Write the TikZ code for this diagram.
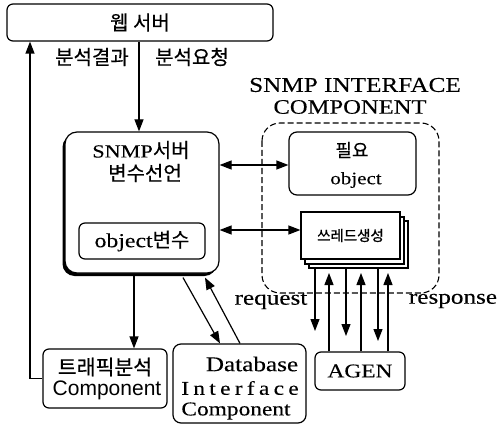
\documentclass[tikz,border=0pt]{standalone}
\usepackage{fontspec}
\setmainfont[FakeStretch=1.2,FakeBold=0.2]{Liberation Serif}
\newfontfamily\kr[FakeBold=0.4]{Noto Sans CJK KR}
\newfontfamily\krbold[FakeBold=1.2]{Noto Sans CJK KR}
\newfontfamily\sanslat{Liberation Sans}
\newfontfamily\spacedser[FakeStretch=1.2,FakeBold=0.2,LetterSpace=22]{Liberation Serif}
\newcommand\fsz[1]{\fontsize{#1}{#1}\selectfont}
\usetikzlibrary{arrows.meta,shadows}

\begin{document}
\begin{tikzpicture}[x=1pt,y=-1pt,line width=1.2pt,
  box/.style={draw,rounded corners=6pt,fill=white,inner sep=0pt},
  txt/.style={inner sep=0pt,anchor=center},
  arr/.style={-{Triangle[length=12pt,width=9pt]}},
  darr/.style={{Triangle[length=12pt,width=9pt]}-{Triangle[length=12pt,width=9pt]}},
  dashbox/.style={draw,dash pattern=on 6pt off 3pt,rounded corners=18pt,line width=1.1pt},
]
\useasboundingbox (0,0) rectangle (498,425);

% web server
\node[box,minimum width=266pt,minimum height=37pt] (web) at (140,22.5) {\kr\fsz{20}웹 서버};
\node[txt] (lres) at (92,57) {\kr\fsz{20}분석결과};
\node[txt] (lreq) at (192,57) {\kr\fsz{20}분석요청};

% SNMP interface component (dashed group)
\node[txt] (ititle1) at (355,85) {\fsz{21}SNMP INTERFACE};
\node[txt] (ititle2) at (350,107) {\fsz{20.5}COMPONENT};
\draw[dashbox] (262,123) rectangle (439,293);

% SNMP server box
\node[box,rounded corners=12pt,minimum width=154pt,minimum height=141pt,
      general shadow={fill=black,shadow xshift=-2.5pt,shadow yshift=-3pt}] (snmp) at (142,202.5) {};
\node[txt] (snmpt1) at (141,150) {\fsz{18.5}SNMP{\kr\fsz{20}서버}};
\node[txt] (snmpt2) at (145,173) {\kr\fsz{20}변수선언};
\node[box,minimum width=126pt,minimum height=36pt] (objv) at (142,241) {\fsz{19.8}object{\kr\fsz{20}변수}};

% needed object box
\node[box,rounded corners=8pt,minimum width=127pt,minimum height=63pt] (need) at (352.5,163.5) {};
\node[txt] (needt1) at (352,150) {\kr\fsz{18}필요};
\node[txt] (needt2) at (356,180) {\fsz{17.5}object};

% thread creation stack
\node[box,rounded corners=0pt,minimum width=99pt,minimum height=47pt] (stackc) at (358.5,244.5) {};
\node[box,rounded corners=0pt,minimum width=99pt,minimum height=47pt] (stackb) at (354.5,240.5) {};
\node[box,rounded corners=0pt,minimum width=99pt,minimum height=47pt] (stack) at (350.5,235.5) {\krbold\fsz{14.5}쓰레드생성};

% lower components
\node[box,minimum width=124pt,minimum height=59pt] (traffic) at (105,378.5) {};
\node[txt] (traffict1) at (105,367) {\kr\fsz{20.5}트래픽분석};
\node[txt] (traffict2) at (107,390) {\sanslat\fsz{21}Component};

\node[box,rounded corners=8pt,minimum width=133pt,minimum height=79pt] (db) at (239.5,383.5) {};
\node[txt] (dbt1) at (252,364) {\fsz{21}Database};
\node[txt] (dbt2) at (240,388) {\spacedser\fsz{19.5}Interface};
\node[txt] (dbt3) at (236,411) {\fsz{19.5}Component};

\node[box,minimum width=90pt,minimum height=38pt] (agen) at (360,371) {\fsz{19.5}AGEN};

\node[txt] (lrq) at (271,301) {\fsz{21}request};
\node[txt] (lrp) at (453,301) {\fsz{21}response};

% x positions of the vertical connectors
\coordinate (xup) at (30,0);
\coordinate (xdn) at (139,0);
\coordinate (xtr) at (134,0);
\coordinate (xd1) at (183,0);
\coordinate (xd2) at (220,0);
\coordinate (xu1) at (240,0);
\coordinate (xu2) at (205,0);
\coordinate (yh1) at (0,165);
\coordinate (yh2) at (0,230);

% web server <-> SNMP server
\draw[arr] (traffic.west) -| (xup |- web.south);
\draw[arr] (xdn |- web.south) -- (xdn |- snmp.north);

% SNMP server -> lower components
\draw[arr] (xtr |- snmp.south) -- (xtr |- traffic.north);
\draw[arr] ([yshift=-4pt]xd1 |- snmp.south) -- (xd2 |- db.north);
\draw[arr] (xu1 |- db.north) -- ([yshift=-4pt]xu2 |- snmp.south);

% SNMP server <-> interface component
\draw[darr] (snmp.east |- yh1) -- (need.west |- yh1);
\draw[darr] (snmp.east |- yh2) -- (stack.west |- yh2);

% request / response between threads and agent
\foreach \x/\y [count=\i] in {315/331,346/336,378/341}{
  \coordinate (rqend\i) at (\x,\y);
  \draw[arr] (stackc.south -| rqend\i) -- (rqend\i);
}
\foreach \x [count=\i] in {329,361,388}{
  \coordinate (rpend\i) at (\x,273);
  \draw[arr] (agen.north -| rpend\i) -- (rpend\i);
}
\end{tikzpicture}
\end{document}
